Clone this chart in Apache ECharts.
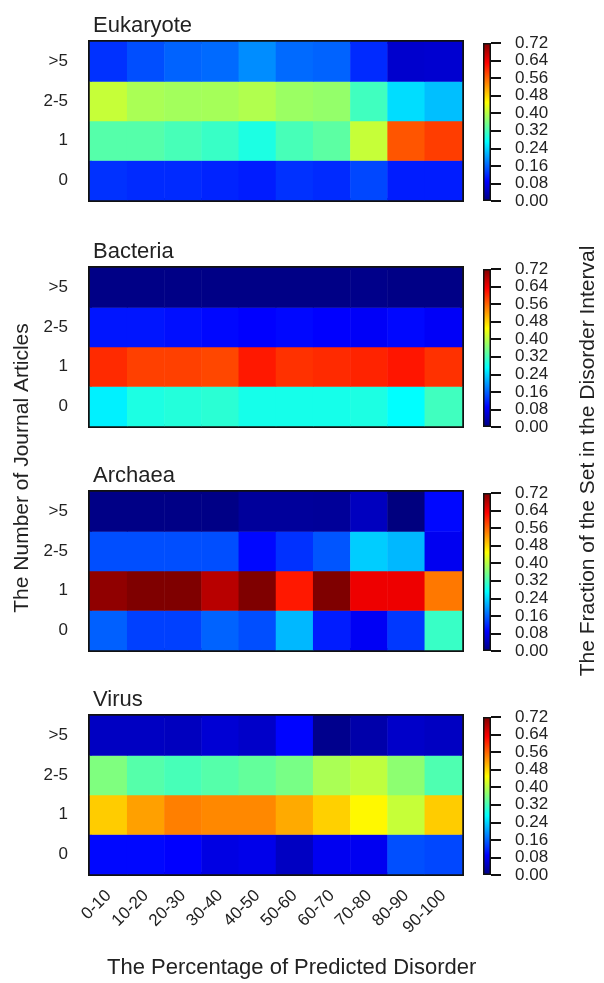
<!DOCTYPE html>
<html>
<head>
<meta charset="utf-8">
<script src="https://cdn.jsdelivr.net/npm/echarts@6/dist/echarts.min.js"></script>
<style>
  html, body { margin: 0; padding: 0; background: #fff; }
  #chart { width: 604px; height: 983px; }
</style>
</head>
<body>
<div id="chart"></div>
<script>
// columns: percentage of predicted disorder
const bins = ['0-10', '10-20', '20-30', '30-40', '40-50', '50-60', '60-70', '70-80', '80-90', '90-100'];
// rows bottom -> top
const articleRows = ['0', '1', '2-5', '>5'];
const panelNames = ['Eukaryote', 'Bacteria', 'Archaea', 'Virus'];

// fraction values, one row per article bucket (0, 1, 2-5, >5)
const eukaryote = [
  [0.125, 0.12, 0.12, 0.115, 0.11, 0.125, 0.12, 0.14, 0.11, 0.11],
  [0.33, 0.33, 0.32, 0.31, 0.29, 0.32, 0.335, 0.41, 0.57, 0.587],
  [0.41, 0.39, 0.385, 0.387, 0.395, 0.38, 0.375, 0.315, 0.246, 0.225],
  [0.125, 0.145, 0.16, 0.165, 0.19, 0.165, 0.16, 0.12, 0.055, 0.057]
];
const bacteria = [
  [0.26, 0.29, 0.295, 0.30, 0.285, 0.285, 0.285, 0.29, 0.27, 0.315],
  [0.60, 0.585, 0.585, 0.58, 0.613, 0.595, 0.60, 0.605, 0.615, 0.595],
  [0.105, 0.105, 0.10, 0.095, 0.09, 0.095, 0.09, 0.085, 0.095, 0.085],
  [0.005, 0.005, 0.005, 0.005, 0.005, 0.005, 0.005, 0.008, 0.005, 0.005]
];
const archaea = [
  [0.158, 0.135, 0.135, 0.16, 0.145, 0.22, 0.11, 0.083, 0.13, 0.31],
  [0.708, 0.72, 0.72, 0.68, 0.72, 0.613, 0.72, 0.642, 0.642, 0.545],
  [0.145, 0.145, 0.145, 0.145, 0.095, 0.125, 0.15, 0.235, 0.22, 0.08],
  [0.005, 0.005, 0.005, 0.005, 0.02, 0.02, 0.018, 0.045, 0.0, 0.095]
];
const virus = [
  [0.095, 0.095, 0.09, 0.07, 0.075, 0.047, 0.08, 0.08, 0.146, 0.14],
  [0.486, 0.517, 0.54, 0.534, 0.534, 0.51, 0.483, 0.455, 0.41, 0.486],
  [0.36, 0.33, 0.32, 0.33, 0.34, 0.355, 0.39, 0.405, 0.37, 0.325],
  [0.047, 0.047, 0.045, 0.06, 0.052, 0.093, 0.01, 0.03, 0.052, 0.047]
];
const panels = [eukaryote, bacteria, archaea, virus];

const jet = ['#00007f', '#0000ff', '#007fff', '#00ffff', '#7fff7f', '#ffff00', '#ff7f00', '#ff0000', '#7f0000'];
const vMax = 0.72;

const tops = [42, 268, 492, 716];
const plotH = 158;
const fontFamily = '"Liberation Sans", Arial, sans-serif';

const chart = echarts.init(document.getElementById('chart'));

const grid = [], xAxis = [], yAxis = [], series = [], title = [];

panels.forEach((rows, p) => {
  // heatmap grid
  grid.push({ left: 90, top: tops[p], width: 372, height: plotH, show: true, borderColor: '#111', borderWidth: 4, backgroundColor: 'transparent' });
  xAxis.push({
    type: 'category', gridIndex: 2 * p, data: bins,
    axisLine: { show: false }, axisTick: { show: false }, splitLine: { show: false },
    axisLabel: { show: p === 3, rotate: 45, fontSize: 17, color: '#222', margin: 19, fontFamily: fontFamily }
  });
  yAxis.push({
    type: 'category', gridIndex: 2 * p, data: articleRows,
    axisLine: { show: false }, axisTick: { show: false }, splitLine: { show: false },
    axisLabel: { fontSize: 17, color: '#222', margin: 22, fontFamily: fontFamily }
  });
  const data = [];
  rows.forEach((vals, r) => vals.forEach((v, c) => data.push([c, r, v])));
  series.push({ type: 'heatmap', name: panelNames[p], xAxisIndex: 2 * p, yAxisIndex: 2 * p, data: data, z: 1 });

  // colorbar grid
  grid.push({ left: 483, top: tops[p] + 1, width: 8, height: plotH });
  xAxis.push({ type: 'category', gridIndex: 2 * p + 1, data: [''], show: false });
  yAxis.push({
    type: 'value', gridIndex: 2 * p + 1, position: 'right', min: 0, max: vMax, interval: 0.08,
    axisLine: { show: false }, splitLine: { show: false },
    axisTick: { show: true, length: 10, lineStyle: { color: '#111', width: 2 } },
    axisLabel: { fontSize: 17, color: '#222', margin: 24, fontFamily: fontFamily, formatter: v => v.toFixed(2) }
  });
  series.push({
    type: 'bar', xAxisIndex: 2 * p + 1, yAxisIndex: 2 * p + 1, barWidth: '100%', data: [vMax],
    silent: true,
    itemStyle: {
      borderColor: '#111', borderWidth: 1.5,
      color: new echarts.graphic.LinearGradient(0, 1, 0, 0, jet.map((c, i) => ({ offset: i / (jet.length - 1), color: c })))
    }
  });

  title.push({ text: panelNames[p], left: 88, top: tops[p] - 32, textStyle: { fontSize: 22, fontWeight: 'normal', color: '#222', fontFamily: fontFamily } });
});

chart.setOption({
  animation: false,
  backgroundColor: '#fff',
  title: title,
  grid: grid,
  xAxis: xAxis,
  yAxis: yAxis,
  visualMap: {
    show: false, type: 'continuous', min: 0, max: vMax, seriesIndex: [0, 2, 4, 6],
    inRange: { color: jet }
  },
  series: series,
  graphic: [
    { type: 'text', left: 107, top: 957, style: { text: 'The Percentage of Predicted Disorder', fontSize: 22, fill: '#222', fontFamily: fontFamily } },
    { type: 'text', x: 22, y: 468, rotation: Math.PI / 2, style: { text: 'The Number of Journal Articles', fontSize: 21, fill: '#222', fontFamily: fontFamily, align: 'center', verticalAlign: 'middle' } },
    { type: 'text', x: 588, y: 461, rotation: Math.PI / 2, style: { text: 'The Fraction of the Set in the Disorder Interval', fontSize: 21, fill: '#222', fontFamily: fontFamily, align: 'center', verticalAlign: 'middle' } }
  ]
});

window.onresize = function () {
  chart.resize();
};
</script>
</body>
</html>
